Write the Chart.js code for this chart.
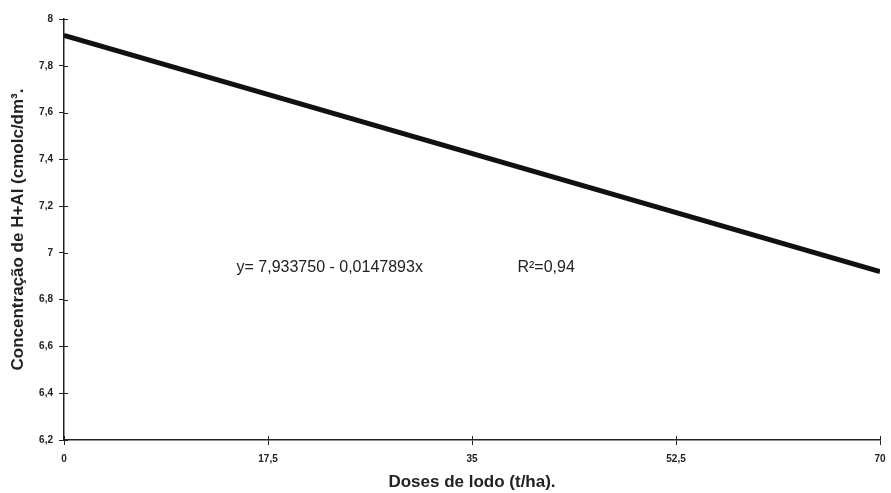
<!DOCTYPE html>
<html>
<head>
<meta charset="utf-8">
<script src="https://cdn.jsdelivr.net/npm/chart.js@4/dist/chart.umd.min.js"></script>
<style>
  html, body { margin: 0; padding: 0; background: #fff; }
  #wrap { width: 891px; height: 493px; }
</style>
</head>
<body>
<div id="wrap"><canvas id="myChart" width="891" height="493"></canvas></div>
<script>
// data
var doses = [0, 70];               // t/ha
var haValues = [7.93, 6.92];       // fitted line ends
var xTicks = [0, 17.5, 35, 52.5, 70];
var xTickLabels = ["0", "17,5", "35", "52,5", "70"];
var yTickLabels = ["6,2", "6,4", "6,6", "6,8", "7", "7,2", "7,4", "7,6", "7,8", "8"];
var eqText = "y= 7,933750 - 0,0147893x";
var r2Text = "R²=0,94";

// text labels placed in data coordinates
var notes = [
    { x: 14.8, y: 6.935, text: eqText },
    { x: 38.9, y: 6.935, text: r2Text }
];

var notePlugin = {
    id: 'notes',
    afterDatasetsDraw: function (chart) {
        var ctx = chart.ctx;
        var xs = chart.scales.x, ys = chart.scales.y;
        ctx.save();
        ctx.font = '16px Arial, "Liberation Sans", sans-serif';
        ctx.fillStyle = '#222';
        ctx.textBaseline = 'middle';
        ctx.textAlign = 'left';
        notes.forEach(function (n) {
            ctx.fillText(n.text, xs.getPixelForValue(n.x), ys.getPixelForValue(n.y));
        });
        // the ticks cross the axes: draw the inner half too
        ctx.strokeStyle = '#222';
        ctx.lineWidth = 1;
        ctx.beginPath();
        ys.ticks.forEach(function (t) {
            var py = Math.round(ys.getPixelForValue(t.value)) + 0.5;
            ctx.moveTo(xs.left, py);
            ctx.lineTo(xs.left + 4, py);
        });
        xs.ticks.forEach(function (t) {
            var px = Math.round(xs.getPixelForValue(t.value)) + 0.5;
            ctx.moveTo(px, ys.bottom);
            ctx.lineTo(px, ys.bottom - 4);
        });
        ctx.stroke();
        ctx.restore();
    }
};

var tickFont = { family: 'Arial, "Liberation Sans", sans-serif', size: 10, weight: 'bold' };
var titleFont = { family: 'Arial, "Liberation Sans", sans-serif', size: 17, weight: 'bold' };

var data = {
    datasets: [{
        data: doses.map(function (d, i) { return { x: d, y: haValues[i] }; }),
        borderColor: '#111',
        borderWidth: 5,
        pointRadius: 0,
        fill: false,
        tension: 0
    }]
};

var config = {
    type: 'line',
    data: data,
    plugins: [notePlugin],
    options: {
        responsive: false,
        animation: false,
        layout: { padding: { top: 19, right: 11, left: 0, bottom: 0 } },
        plugins: { legend: { display: false }, tooltip: { enabled: false } },
        scales: {
            x: {
                type: 'linear',
                min: 0,
                max: 70,
                afterBuildTicks: function (s) {
                    s.ticks = xTicks.map(function (v) { return { value: v }; });
                },
                afterFit: function (s) {
                    s.height = 53;
                    s.paddingLeft = 0;
                    s.paddingRight = 0;
                },
                ticks: {
                    color: '#222',
                    font: tickFont,
                    padding: 8,
                    maxRotation: 0,
                    callback: function (v, i) { return xTickLabels[i]; }
                },
                grid: { drawOnChartArea: false, color: '#222', tickLength: 5, tickColor: '#222' },
                border: { color: '#222', width: 1.5 },
                title: {
                    display: true,
                    text: 'Doses de lodo (t/ha).',
                    color: '#222',
                    font: titleFont,
                    padding: { top: 2, bottom: 0 }
                }
            },
            y: {
                type: 'linear',
                min: 6.2,
                max: 8,
                ticks: {
                    stepSize: 0.2,
                    color: '#222',
                    font: tickFont,
                    padding: 6,
                    callback: function (v, i) { return yTickLabels[i]; }
                },
                afterFit: function (s) { s.width = 64; },
                grid: { drawOnChartArea: false, color: '#222', tickLength: 5, tickColor: '#222' },
                border: { color: '#222', width: 1.5 },
                title: {
                    display: true,
                    text: 'Concentração de H+Al (cmolc/dm³.',
                    color: '#222',
                    font: titleFont,
                    padding: { top: 8, bottom: 4 }
                }
            }
        }
    }
};

var myChart = new Chart(document.getElementById('myChart'), config);
</script>
</body>
</html>
